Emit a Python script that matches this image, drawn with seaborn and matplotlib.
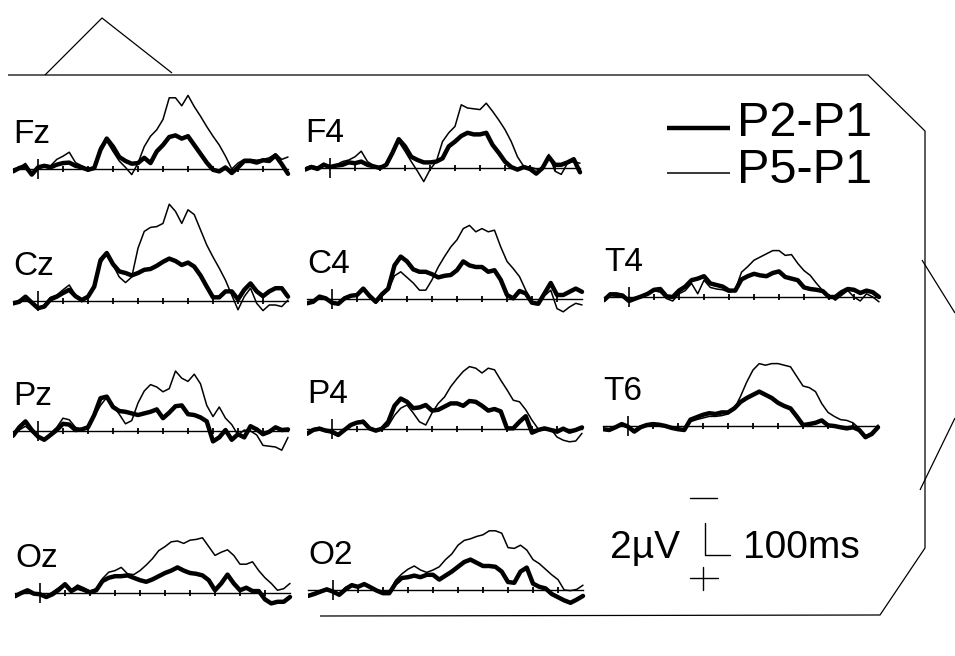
import numpy as np
import pandas as pd
import matplotlib
matplotlib.use("Agg")
import matplotlib.pyplot as plt
import seaborn as sns

sns.set_style("white")
plt.rcParams["font.family"] = ["Liberation Sans", "DejaVu Sans"]
plt.rcParams["text.color"] = "black"

# ---------------- data (negativity in microvolts, plotted upward) ----------------
TIME_MS = list(range(-100, 1001, 25))

FZ_P2 = [-0.15, 0.06, 0.17, -0.35, 0.1, 0.2, 0.1, 0.27, 0.37, 0.4, 0.2, 0.1, -0.05, 0.06, 1.2,
         1.9, 1.4, 0.75, 0.5, 0.33, 0.37, 0.7, 0.37, 1.1, 1.5, 2.0, 2.1, 1.9, 2.05, 1.5,
         0.95, 0.4, -0.05, -0.15, 0.1, -0.25, 0.1, 0.5, 0.5, 0.4, 0.55, 0.5, 0.85, 0.3, -0.3]
FZ_P5 = [0.0, 0.1, 0.35, -0.25, 0.1, 0.27, 0.2, 0.6, 0.8, 1.05, 0.4, 0.2, 0.0, 0.1, 1.4,
         1.75, 1.1, 0.5, 0.1, -0.35, 0.37, 1.4, 2.05, 2.45, 3.1, 4.45, 4.45, 3.95, 4.6, 3.9,
         3.3, 2.65, 2.05, 1.5, 0.8, 0.0, 0.37, 0.6, 0.6, 0.55, 0.6, 0.7, 0.95, 0.6, 0.75]

F4_P2 = [-0.1, 0.06, -0.06, 0.2, 0.06, 0.15, 0.2, 0.35, 0.3, 0.4, 0.2, 0.1, 0.0, 0.2, 0.95,
         1.8, 1.35, 0.7, 0.5, 0.35, 0.35, 0.4, 0.6, 1.35, 1.65, 2.0, 2.2, 2.1, 2.1, 2.2,
         1.45, 0.95, 0.4, 0.06, -0.1, 0.06, -0.06, -0.35, 0.0, 0.7, 0.2, 0.2, 0.35, 0.55, -0.27]
F4_P5 = [0.0, 0.15, 0.06, 0.3, 0.06, 0.2, 0.4, 0.5, 0.7, 1.05, 0.4, 0.15, 0.0, 0.15, 1.05,
         1.65, 1.05, 0.4, -0.2, -0.85, -0.1, 0.4, 1.65, 2.2, 2.6, 3.95, 3.75, 3.7, 3.65, 4.05,
         3.55, 3.0, 2.4, 1.65, 0.7, 0.1, 0.06, -0.06, -0.1, 0.85, -0.2, -0.4, 0.3, 0.4, 0.3]

CZ_P2 = [-0.15, -0.05, 0.27, -0.1, -0.45, -0.35, 0.1, 0.27, 0.5, 0.7, 0.3, 0.06, 0.27, 0.9, 2.55,
         3.0, 2.3, 1.85, 1.75, 1.6, 1.75, 1.95, 2.0, 2.2, 2.45, 2.65, 2.5, 2.25, 2.4, 2.15,
         1.6, 0.9, 0.23, 0.23, 0.6, 0.6, 0.1, 0.7, 1.1, 0.6, 0.3, 0.6, 0.8, 0.8, 0.27]
CZ_P5 = [-0.15, 0.06, 0.06, -0.15, -0.45, -0.25, 0.23, 0.37, 0.7, 1.0, 0.37, -0.05, 0.23, 0.9, 2.35,
         2.95, 2.25, 1.5, 1.15, 1.5, 3.3, 4.35, 4.6, 4.65, 4.85, 6.05, 5.6, 4.85, 5.7, 5.4,
         4.45, 3.5, 2.75, 2.05, 1.3, 0.37, -0.55, 0.27, 0.8, -0.15, -0.6, -0.25, -0.25, -0.35, 0.06]

C4_P2 = [-0.27, -0.17, 0.15, 0.04, -0.23, -0.3, 0.04, 0.2, 0.25, 0.65, 0.2, -0.17, 0.3, 0.65, 2.1,
         2.65, 2.35, 1.85, 1.7, 1.7, 1.55, 1.35, 1.45, 1.5, 1.8, 2.35, 2.1, 2.0, 2.0, 1.7,
         1.8, 1.2, 0.25, 0.04, 0.5, 0.35, -0.23, -0.3, 0.35, 1.0, 0.25, 0.25, 0.45, 0.65, 0.45]
C4_P5 = [-0.23, -0.06, 0.1, 0.0, -0.27, -0.27, 0.1, 0.2, 0.2, 0.55, 0.1, -0.27, 0.2, 0.55, 1.45,
         1.7, 1.35, 1.0, 0.55, 0.55, 1.2, 2.0, 2.65, 3.25, 3.7, 4.4, 4.6, 4.2, 4.4, 4.2,
         4.3, 3.25, 2.35, 1.9, 1.4, 0.55, -0.27, -0.3, 0.2, 0.55, -0.6, -0.8, -0.5, -0.27, -0.37]

T4_P2 = [-0.2, 0.17, 0.17, 0.08, -0.25, -0.1, 0.04, 0.2, 0.45, 0.5, 0.04, 0.0, 0.4, 0.65, 1.05,
         1.15, 1.3, 0.85, 0.75, 0.65, 0.4, 0.4, 1.1, 1.3, 1.45, 1.35, 1.3, 1.5, 1.6, 1.25,
         1.15, 1.05, 0.6, 0.5, 0.45, 0.37, 0.0, 0.0, 0.3, 0.5, 0.45, 0.25, 0.4, 0.3, 0.0]
T4_P5 = [-0.1, 0.1, 0.04, 0.17, -0.3, -0.1, 0.1, 0.25, 0.4, 0.3, -0.1, -0.25, 0.2, 0.4, 0.85,
         0.2, 1.05, 0.6, 0.5, 0.45, 0.3, 0.45, 1.55, 1.9, 2.3, 2.5, 2.7, 2.9, 2.9, 2.6,
         2.65, 2.1, 1.65, 1.35, 0.85, 0.4, 0.1, -0.2, 0.1, 0.4, 0.0, -0.25, 0.2, 0.0, -0.3]

PZ_P2 = [-0.3, 0.23, 0.6, 0.06, -0.35, -0.55, -0.25, 0.06, 0.45, 0.4, 0.06, 0.1, 0.23, 1.0, 2.05,
         2.15, 1.5, 1.25, 1.2, 1.1, 1.0, 1.1, 1.2, 1.35, 0.8, 1.15, 1.55, 1.6, 1.05, 1.0,
         0.85, 0.6, -0.65, -0.4, 0.06, -0.55, -0.2, -0.4, 0.3, 0.1, -0.2, -0.05, 0.23, 0.06, 0.1]
PZ_P5 = [-0.2, 0.06, 0.3, -0.05, -0.4, -0.55, -0.15, 0.23, 0.8, 0.7, 0.23, 0.1, 0.17, 0.9, 1.6,
         2.1, 1.6, 1.05, 0.45, 0.65, 1.75, 2.5, 2.9, 2.75, 2.45, 2.65, 3.75, 3.3, 3.1, 3.55,
         2.95, 1.6, 0.9, 1.5, 0.8, 0.4, -0.25, 0.06, 0.0, -0.25, -0.9, -0.95, -1.0, -1.2, -0.4]

P4_P2 = [-0.3, -0.06, 0.02, -0.1, -0.17, -0.37, -0.06, 0.25, 0.4, 0.45, 0.04, -0.1, 0.02, 0.45, 1.45,
         1.9, 1.7, 1.3, 1.35, 1.5, 1.15, 1.2, 1.4, 1.6, 1.6, 1.45, 1.75, 1.7, 1.45, 1.15,
         1.25, 1.1, 0.04, 0.04, 0.45, 0.8, -0.23, -0.06, 0.04, -0.06, -0.17, 0.02, -0.17, -0.06, 0.1]
P4_P5 = [-0.27, 0.02, 0.1, -0.06, -0.27, -0.45, 0.0, 0.25, 0.45, 0.55, 0.1, -0.17, 0.0, 0.2, 0.85,
         1.3, 1.5, 1.0, 0.45, 0.25, 1.0, 1.6, 2.0, 2.65, 3.15, 3.6, 3.9, 3.8, 3.5, 3.8,
         3.7, 3.05, 2.45, 1.8, 1.7, 1.2, 0.55, 0.0, -0.06, 0.0, -0.5, -0.7, -0.8, -0.75, -0.27]

T6_P2 = [-0.2, -0.25, -0.08, 0.12, -0.04, -0.35, -0.08, 0.06, 0.12, 0.08, 0.0, -0.12, -0.2, -0.25, 0.4,
         0.55, 0.7, 0.8, 0.75, 0.85, 0.85, 1.1, 1.5, 1.75, 1.95, 2.15, 1.95, 1.75, 1.45, 1.25,
         1.1, 0.6, 0.06, 0.12, 0.2, 0.35, 0.04, 0.0, -0.08, -0.15, -0.08, -0.25, -0.7, -0.5, -0.08]
T6_P5 = [-0.17, -0.2, -0.04, 0.08, -0.08, -0.25, 0.0, 0.12, 0.17, 0.08, 0.0, -0.15, -0.17, -0.2, 0.27,
         0.4, 0.5, 0.6, 0.6, 0.65, 0.75, 1.05, 1.85, 2.75, 3.5, 3.9, 3.8, 3.9, 3.9, 3.8,
         3.7, 3.1, 2.5, 2.4, 2.15, 1.4, 0.85, 0.6, 0.4, 0.35, 0.2, -0.15, -0.6, -0.45, 0.06]

OZ_P2 = [-0.2, 0.0, 0.17, -0.04, -0.08, -0.25, -0.08, 0.2, 0.55, 0.12, 0.33, 0.2, 0.04, 0.17, 0.75,
         0.95, 1.05, 1.05, 1.1, 0.95, 0.8, 0.7, 0.85, 1.05, 1.25, 1.4, 1.6, 1.4, 1.25, 1.2,
         1.1, 0.8, 0.17, 0.6, 1.15, 0.6, 0.17, 0.33, 0.12, 0.12, -0.4, -0.65, -0.55, -0.55, -0.25]
OZ_P5 = [-0.15, 0.06, 0.2, 0.0, -0.04, -0.2, 0.06, 0.33, 0.6, 0.2, 0.5, 0.33, 0.12, 0.27, 0.9,
         1.3, 1.4, 1.6, 1.2, 1.15, 1.4, 1.75, 2.15, 2.65, 2.9, 3.2, 3.25, 3.1, 3.3, 3.35,
         3.45, 2.9, 2.35, 2.55, 2.7, 2.35, 1.8, 1.8, 1.95, 1.4, 0.95, 0.6, 0.17, 0.27, 0.6]

O2_P2 = [-0.37, -0.25, -0.1, 0.04, -0.1, -0.3, 0.04, 0.3, 0.2, 0.37, 0.17, -0.04, -0.2, -0.2, 0.4,
         0.75, 0.8, 0.9, 0.8, 0.95, 0.95, 0.65, 0.9, 1.15, 1.45, 1.75, 1.9, 1.7, 1.5, 1.5,
         1.45, 1.15, 0.5, 0.45, 1.15, 1.4, 0.4, 0.2, 0.1, -0.25, -0.45, -0.65, -0.8, -0.6, -0.37]
O2_P5 = [-0.3, -0.17, -0.04, 0.1, -0.2, -0.25, 0.17, 0.37, 0.25, 0.4, 0.2, 0.0, -0.17, -0.17, 0.6,
         1.0, 1.3, 1.5, 1.25, 1.1, 1.25, 1.45, 1.9, 2.25, 2.8, 3.1, 3.2, 3.35, 3.45, 3.7,
         3.7, 3.55, 2.65, 2.6, 2.8, 2.5, 1.9, 1.65, 1.3, 0.95, 0.65, 0.0, -0.04, 0.04, 0.3]

CHANNELS = ["Fz", "F4", "Cz", "C4", "T4", "Pz", "P4", "T6", "Oz", "O2"]
P2_SERIES = [FZ_P2, F4_P2, CZ_P2, C4_P2, T4_P2, PZ_P2, P4_P2, T6_P2, OZ_P2, O2_P2]
P5_SERIES = [FZ_P5, F4_P5, CZ_P5, C4_P5, T4_P5, PZ_P5, P4_P5, T6_P5, OZ_P5, O2_P5]
CONDITIONS = ["P2-P1", "P5-P1"]
TICKS_MS = [100, 200, 300, 400, 500, 600, 700, 800, 900]

# ---------------- layout (pixels in a 955 x 656 canvas) ----------------
W, H = 955, 656
PX_PER_MS = 0.25
PX_PER_UV = 16.0
XLIM = (-100, 1020)
YLIM = (-2.5, 6.5)
# onset x, baseline y of each panel
PANEL_POS = {"Fz": (38, 169), "F4": (330, 168), "Cz": (38, 301), "C4": (332, 299),
             "T4": (629, 297), "Pz": (38, 431), "P4": (332, 429), "T6": (628, 426),
             "Oz": (40, 593), "O2": (333, 590)}
LW_THICK, LW_THIN = 3.2, 1.1
LABEL_FONT = ["Liberation Sans Narrow", "Liberation Sans", "DejaVu Sans"]

fig = plt.figure(figsize=(W / 100, H / 100), dpi=100)
fig.patch.set_facecolor("white")

# background drawing axes in pixel coordinates (frame decoration & legend)
bg = fig.add_axes([0, 0, 1, 1], zorder=0)
bg.set_xlim(0, W)
bg.set_ylim(H, 0)
bg.axis("off")
frame_kw = dict(color="black", lw=0.9, solid_capstyle="butt")
bg.plot([8, 868, 925, 925, 880, 320], [75, 75, 131, 548, 615, 616], **frame_kw)
bg.plot([45, 102, 172], [75, 18, 73], **frame_kw)
bg.plot([922, 955], [260, 313], **frame_kw)
bg.plot([955, 920], [418, 490], **frame_kw)

# legend
bg.plot([667, 730], [128, 128], color="black", lw=LW_THICK, solid_capstyle="butt")
bg.plot([667, 730], [173, 173], color="black", lw=LW_THIN, solid_capstyle="butt")
bg.text(737, 136, CONDITIONS[0], fontsize=35, va="baseline", ha="left")
bg.text(737, 183, CONDITIONS[1], fontsize=35, va="baseline", ha="left")


def panel_axes(ox, oy):
    left = ox + XLIM[0] * PX_PER_MS
    width = (XLIM[1] - XLIM[0]) * PX_PER_MS
    bottom_px = oy - YLIM[0] * PX_PER_UV
    height = (YLIM[1] - YLIM[0]) * PX_PER_UV
    ax = fig.add_axes([left / W, 1 - bottom_px / H, width / W, height / H], zorder=2)
    ax.set_xlim(*XLIM)
    ax.set_ylim(*YLIM)
    ax.patch.set_alpha(0)
    return ax


for ch, p2, p5 in zip(CHANNELS, P2_SERIES, P5_SERIES):
    ox, oy = PANEL_POS[ch]
    ax = panel_axes(ox, oy)
    df = pd.DataFrame({"time": TIME_MS * 2,
                       "uv": list(p2) + list(p5),
                       "cond": [CONDITIONS[0]] * len(TIME_MS) + [CONDITIONS[1]] * len(TIME_MS)})
    sns.lineplot(data=df[df.cond == CONDITIONS[0]], x="time", y="uv", color="black",
                 linewidth=LW_THICK, estimator=None, ax=ax, legend=False)
    sns.lineplot(data=df[df.cond == CONDITIONS[1]], x="time", y="uv", color="black",
                 linewidth=LW_THIN, estimator=None, ax=ax, legend=False)
    # time axis drawn at 0 uV with tick marks every 100 ms
    for s in ["top", "right", "left"]:
        ax.spines[s].set_visible(False)
    ax.spines["bottom"].set_position(("data", 0))
    ax.spines["bottom"].set_bounds(-100, 1000)
    ax.spines["bottom"].set_linewidth(1.0)
    ax.spines["bottom"].set_color("black")
    ax.set_xticks(TICKS_MS)
    ax.set_xticks([0], minor=True)
    ax.tick_params(axis="x", which="major", bottom=True, direction="inout", length=5,
                   width=1.3, color="black", labelbottom=False)
    ax.tick_params(axis="x", which="minor", bottom=True, direction="inout", length=14,
                   width=1.2, color="black", labelbottom=False)
    ax.set_yticks([])
    ax.set_xlabel("")
    ax.set_ylabel("")
    ax.text(-100, 1.6, ch, fontsize=24, family=LABEL_FONT, va="baseline", ha="left",
            color="black")

# calibration bar: 2 uV (negative up) and 100 ms, drawn in the same units
sb = panel_axes(705, 555)
sb.axis("off")
sb.plot([0, 0, 100], [2, 0, 0], color="black", lw=1.0)
sb.plot([-60, 48], [3.56, 3.56], color="black", lw=1.0)
sb.plot([-60, 52], [-1.44, -1.44], color="black", lw=1.0)
sb.plot([-8, -8], [-0.75, -2.2], color="black", lw=1.0)
sb.text(-100, -0.2, "2\u00b5V", fontsize=28, va="baseline", ha="right", color="black")
sb.text(152, -0.2, "100ms", fontsize=28, va="baseline", ha="left", color="black")

fig.savefig("out.png", dpi=100)
